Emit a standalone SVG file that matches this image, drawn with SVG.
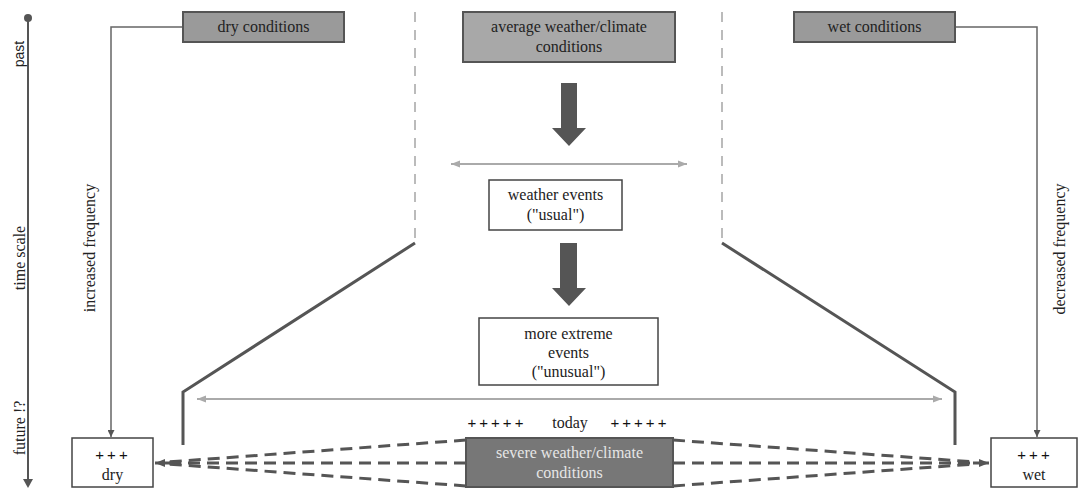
<svg xmlns="http://www.w3.org/2000/svg" width="1079" height="489" viewBox="0 0 1079 489">
<style>
.t{font-family:'Liberation Serif','Times New Roman','DejaVu Serif',serif;font-size:16px;fill:#222;text-anchor:middle}
.s{font-family:'Liberation Sans',Arial,sans-serif;font-size:14px;fill:#222;text-anchor:middle}
.p{font-family:'Liberation Sans',Arial,sans-serif;font-size:15px;fill:#111;text-anchor:middle;letter-spacing:3px}
.gbox{fill:#9a9a9a;stroke:#555;stroke-width:2}
.wbox{fill:#fff;stroke:#444;stroke-width:1.5}
.conn{fill:none;stroke:#666;stroke-width:1.5}
.dash{fill:none;stroke:#bbb;stroke-width:2;stroke-dasharray:10 8}
.funnel{fill:none;stroke:#555;stroke-width:3}
.gray{fill:none;stroke:#aaa;stroke-width:2}
.sd{fill:none;stroke:#555;stroke-width:3;stroke-dasharray:12 7}
.big{fill:#555}
</style>
<defs>
<marker id="ah" viewBox="0 0 10 10" refX="10" refY="5" markerWidth="7" markerHeight="7" markerUnits="userSpaceOnUse" orient="auto"><path d="M0,0 L10,5 L0,10 z" fill="#555"/></marker>
<marker id="ag" viewBox="0 0 10 10" refX="10" refY="5" markerWidth="9" markerHeight="9" markerUnits="userSpaceOnUse" orient="auto-start-reverse"><path d="M0,1 L10,5 L0,9 z" fill="#aaa"/></marker>
<marker id="ad" viewBox="0 0 10 10" refX="10" refY="5" markerWidth="10" markerHeight="10" markerUnits="userSpaceOnUse" orient="auto"><path d="M0,1 L10,5 L0,9 z" fill="#555"/></marker>
</defs>

<g id="timeaxis">
<circle cx="28" cy="18" r="4" fill="#555"/>
<line x1="28" y1="18" x2="28" y2="480" stroke="#555" stroke-width="2"/>
<path d="M23,479 L28,488 L33,479 z" fill="#555"/>
<text class="s" transform="translate(24,54) rotate(-90)">past</text>
<text class="t" font-family="Liberation Serif, serif" transform="translate(25,258) rotate(-90)">time scale</text>
<text class="t" font-family="Liberation Serif, serif" transform="translate(25,428) rotate(-90)">future !?</text>
</g>

<g id="connectors">
<path class="conn" d="M183,27 H111 V437" marker-end="url(#ah)"/>
<path class="conn" d="M955,27 H1037 V437" marker-end="url(#ah)"/>
<line class="dash" x1="415" y1="12" x2="415" y2="243"/>
<line class="dash" x1="722" y1="12" x2="722" y2="243"/>
<path class="funnel" d="M415,243 L183,392 V445"/>
<path class="funnel" d="M722,243 L955,392 V445"/>
<line class="gray" x1="451" y1="164" x2="687" y2="164" marker-start="url(#ag)" marker-end="url(#ag)"/>
<line class="gray" x1="197" y1="399" x2="942" y2="399" marker-start="url(#ag)" marker-end="url(#ag)"/>
<path class="big" d="M561,83 H577 V128 H586 L569,146 L552,128 H561 z"/>
<path class="big" d="M560,243 H577 V288 H586 L569,306 L552,288 H560 z"/>
<line class="sd" x1="466" y1="440" x2="168" y2="462"/>
<line class="sd" x1="466" y1="463" x2="168" y2="463"/>
<line class="sd" x1="466" y1="486" x2="168" y2="464"/>
<line x1="170" y1="463" x2="155" y2="463" stroke="#555" stroke-width="3" marker-end="url(#ad)"/>
<line class="sd" x1="673" y1="440" x2="975" y2="462"/>
<line class="sd" x1="673" y1="463" x2="975" y2="463"/>
<line class="sd" x1="673" y1="486" x2="975" y2="464"/>
<line x1="973" y1="463" x2="989" y2="463" stroke="#555" stroke-width="3" marker-end="url(#ad)"/>
<text class="t" font-family="Liberation Serif, serif" transform="translate(95,248) rotate(-90)">increased frequency</text>
<text class="t" font-family="Liberation Serif, serif" transform="translate(1065,249) rotate(-90)">decreased frequency</text>
</g>

<g id="dry-conditions">
<rect class="gbox" x="183" y="12" width="161" height="30"/>
<text class="t" font-family="Liberation Serif, serif" x="263.5" y="32">dry conditions</text>
</g>
<g id="average">
<rect class="gbox" x="463" y="12" width="212" height="50" style="fill:#a8a8a8"/>
<text class="t" font-family="Liberation Serif, serif" x="569" y="32">average weather/climate</text>
<text class="t" font-family="Liberation Serif, serif" x="569" y="52">conditions</text>
</g>
<g id="wet-conditions">
<rect class="gbox" x="794" y="12" width="161" height="30"/>
<text class="t" font-family="Liberation Serif, serif" x="874.5" y="32">wet conditions</text>
</g>
<g id="weather-events">
<rect class="wbox" x="489" y="180" width="133" height="50"/>
<text class="t" font-family="Liberation Serif, serif" x="555.5" y="200">weather events</text>
<text class="t" font-family="Liberation Serif, serif" x="555.5" y="220">("usual")</text>
</g>
<g id="extreme-events">
<rect class="wbox" x="479" y="318" width="179" height="67"/>
<text class="t" font-family="Liberation Serif, serif" x="568.5" y="339">more extreme</text>
<text class="t" font-family="Liberation Serif, serif" x="568.5" y="358">events</text>
<text class="t" font-family="Liberation Serif, serif" x="568.5" y="377">("unusual")</text>
</g>
<g id="today">
<text class="p" x="497" y="428">+++++</text>
<text class="t" font-family="Liberation Serif, serif" x="570" y="428">today</text>
<text class="p" x="640" y="428">+++++</text>
</g>
<g id="severe">
<rect x="466" y="438" width="207" height="49" fill="#777" stroke="#555" stroke-width="2"/>
<text class="t" font-family="Liberation Serif, serif" x="569.5" y="458" style="fill:#e6e6e6">severe weather/climate</text>
<text class="t" font-family="Liberation Serif, serif" x="569.5" y="478" style="fill:#e6e6e6">conditions</text>
</g>
<g id="dry">
<rect class="wbox" x="72" y="438" width="81" height="49"/>
<text class="p" x="113" y="460">+++</text>
<text class="t" font-family="Liberation Serif, serif" x="112.5" y="480">dry</text>
</g>
<g id="wet">
<rect class="wbox" x="991" y="438" width="86" height="49"/>
<text class="p" x="1035" y="460">+++</text>
<text class="t" font-family="Liberation Serif, serif" x="1034" y="480">wet</text>
</g>
</svg>
